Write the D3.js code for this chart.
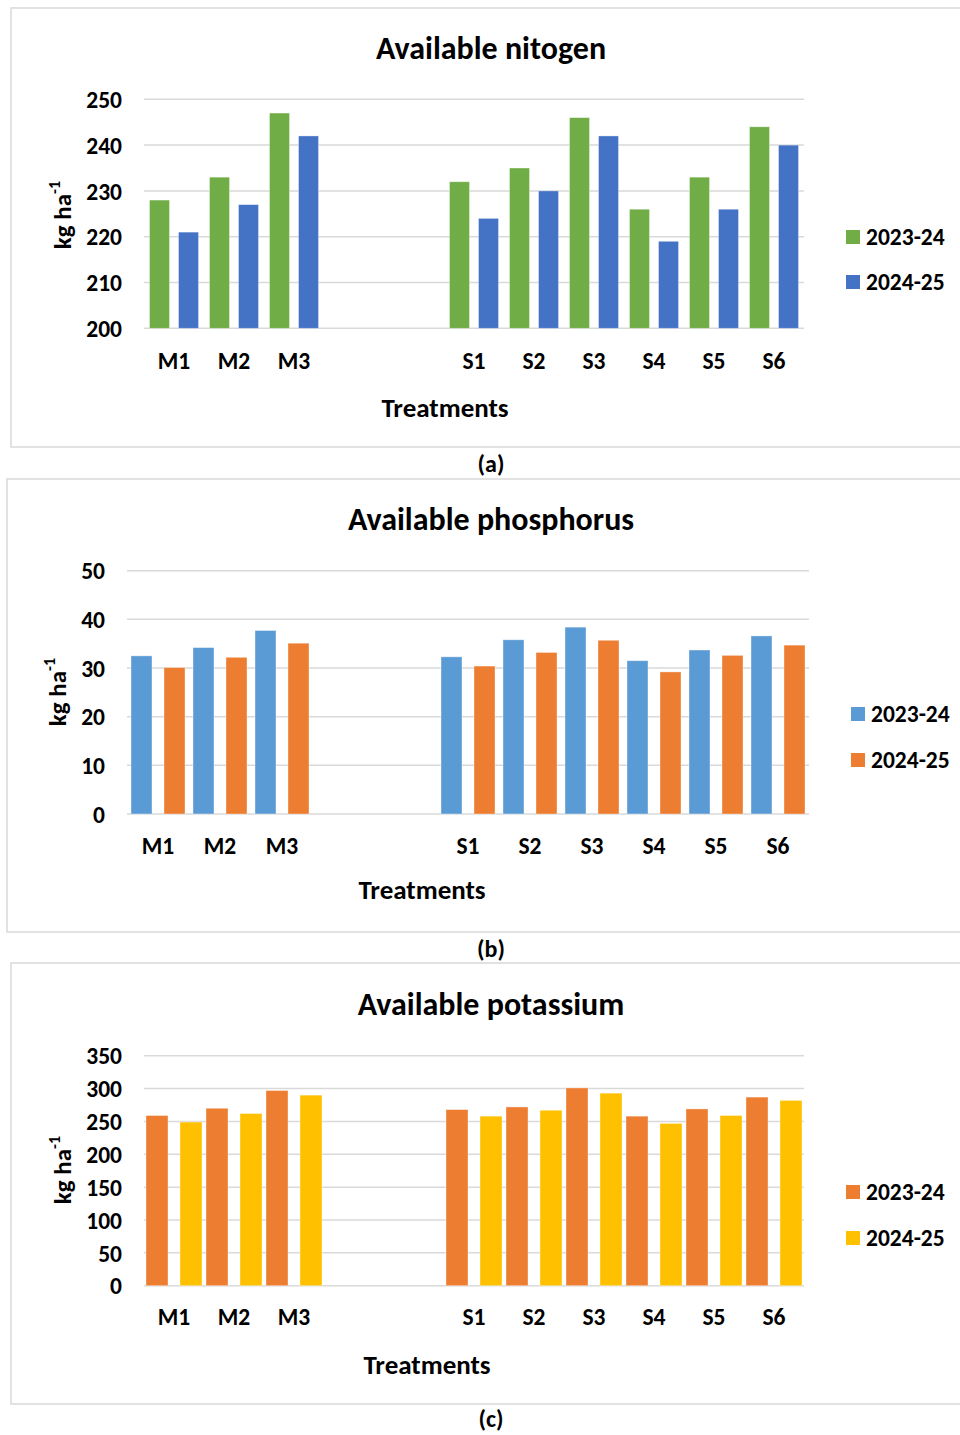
<!DOCTYPE html>
<html>
<head>
<meta charset="utf-8">
<script src="https://cdn.jsdelivr.net/npm/d3@7/dist/d3.min.js"></script>
<style>
  html, body { margin: 0; padding: 0; background: #fff; }
  svg { display: block; }
  text { font-family: Carlito, Calibri, Lato, "Open Sans", sans-serif; font-weight: 700; fill: #000; }
</style>
</head>
<body>
<svg id="chart" width="960" height="1435"></svg>
<script>
// ---- data ----
const treatments = ["M1", "M2", "M3", "S1", "S2", "S3", "S4", "S5", "S6"];
const categories = ["M1", "M2", "M3", "gap1", "gap2", "S1", "S2", "S3", "S4", "S5", "S6"];
const seriesNames = ["2023-24", "2024-25"];

const nitrogen2023 = [228, 233, 247, 232, 235, 246, 226, 233, 244];
const nitrogen2024 = [221, 227, 242, 224, 230, 242, 219, 226, 240];
const nitrogenTicks = [200, 210, 220, 230, 240, 250];

const phosphorus2023 = [32.5, 34.2, 37.7, 32.3, 35.8, 38.4, 31.5, 33.7, 36.6];
const phosphorus2024 = [30.1, 32.2, 35.1, 30.4, 33.2, 35.7, 29.2, 32.6, 34.7];
const phosphorusTicks = [0, 10, 20, 30, 40, 50];

const potassium2023 = [259, 270, 297, 268, 272, 301, 258, 269, 287];
const potassium2024 = [249, 262, 290, 258, 267, 293, 247, 259, 282];
const potassiumTicks = [0, 50, 100, 150, 200, 250, 300, 350];

const FONT = "Carlito, Calibri, Lato, sans-serif";
const svg = d3.select("#chart");

function drawPanel(p) {
  const g = svg.append("g");
  g.append("rect")
    .attr("x", p.frame[0]).attr("y", p.frame[1])
    .attr("width", p.frame[2]).attr("height", p.frame[3])
    .attr("fill", "none").attr("stroke", "#d9d9d9").attr("stroke-width", 1.5);

  const x = d3.scaleBand().domain(categories).range([p.x0, p.x1]).padding(0);
  const y = d3.scaleLinear().domain(p.domain).range([p.yBottom, p.yTop]);

  g.append("g").selectAll("line").data(p.ticks).join("line")
    .attr("x1", p.x0).attr("x2", p.x1)
    .attr("y1", d => y(d)).attr("y2", d => y(d))
    .attr("stroke", "#d9d9d9").attr("stroke-width", 1.5);

  const yAxis = d3.axisLeft(y).tickValues(p.ticks).tickSize(0).tickPadding(0);
  const ya = g.append("g").attr("transform", `translate(${p.tickX},0)`).call(yAxis);
  ya.select(".domain").remove();
  ya.selectAll("text").attr("font-size", p.tickFont).attr("dy", "0.35em")
    .style("font-family", FONT).style("font-weight", 700).attr("fill", "#000");

  const xAxis = d3.axisBottom(x).tickSize(0).tickPadding(0)
    .tickFormat(d => d.startsWith("gap") ? "" : d);
  const xa = g.append("g").attr("transform", `translate(0,${p.catY})`).call(xAxis);
  xa.select(".domain").remove();
  xa.selectAll("text").attr("font-size", p.tickFont).attr("y", 0).attr("dy", "0.35em")
    .style("font-family", FONT).style("font-weight", 700).attr("fill", "#000");

  const rows = treatments.map((t, i) => ({ t, v: [p.s1[i], p.s2[i]] }));
  rows.forEach(r => {
    r.v.forEach((v, k) => {
      const cx = x(r.t) + x.bandwidth() / 2 + (k === 0 ? -p.off : p.off);
      g.append("rect")
        .attr("x", cx - p.barW / 2)
        .attr("y", y(v))
        .attr("width", p.barW)
        .attr("height", y(p.domain[0]) - y(v))
        .attr("fill", p.colors[k])
        .attr("stroke", "#ffffff").attr("stroke-opacity", 0.45).attr("stroke-width", 0.8);
    });
  });

  g.append("text").attr("x", p.titleX).attr("y", p.titleY).attr("dy", "0.35em")
    .attr("text-anchor", "middle").attr("font-size", 32).text(p.title);

  g.append("text").attr("x", p.xTitle[0]).attr("y", p.xTitle[1]).attr("dy", "0.35em")
    .attr("text-anchor", "middle").attr("font-size", 27).text("Treatments");

  const yt = g.append("text")
    .attr("transform", `translate(${p.yTitle[0]},${p.yTitle[1]}) rotate(-90)`)
    .attr("text-anchor", "middle").attr("dy", "0.35em").attr("font-size", 25);
  yt.append("tspan").text("kg ha");
  yt.append("tspan").attr("font-size", 16).attr("dy", "-0.7em").text("-1");

  seriesNames.forEach((s, k) => {
    const ly = p.legY[k];
    g.append("rect").attr("x", p.legX).attr("y", ly - 7).attr("width", 14).attr("height", 14)
      .attr("fill", p.colors[k]);
    g.append("text").attr("x", p.legX + 20).attr("y", ly).attr("dy", "0.35em")
      .attr("font-size", p.tickFont).text(s);
  });

  svg.append("text").attr("x", 491).attr("y", p.capY).attr("dy", "0.35em")
    .attr("text-anchor", "middle").attr("font-size", 24).text(p.caption);
}

drawPanel({
  frame: [11, 8, 960, 439],
  x0: 144, x1: 804, yTop: 99.3, yBottom: 328.3, domain: [200, 250], ticks: nitrogenTicks,
  s1: nitrogen2023, s2: nitrogen2024, colors: ["#70AD47", "#4472C4"],
  barW: 20, off: 14.5,
  tickX: 122, tickFont: 23.5, catY: 361,
  title: "Available nitogen", titleX: 491, titleY: 48,
  xTitle: [445, 408], yTitle: [62, 215],
  legX: 846, legY: [237, 282], caption: "(a)", capY: 464
});

drawPanel({
  frame: [7, 479, 960, 453],
  x0: 127, x1: 809, yTop: 570.7, yBottom: 814, domain: [0, 50], ticks: phosphorusTicks,
  s1: phosphorus2023, s2: phosphorus2024, colors: ["#5B9BD5", "#ED7D31"],
  barW: 21, off: 16.5,
  tickX: 105, tickFont: 23.5, catY: 846,
  title: "Available phosphorus", titleX: 491, titleY: 519,
  xTitle: [422, 890], yTitle: [57, 692],
  legX: 851, legY: [714, 760], caption: "(b)", capY: 949
});

drawPanel({
  frame: [11, 963, 960, 441],
  x0: 144, x1: 804, yTop: 1055.7, yBottom: 1285.7, domain: [0, 350], ticks: potassiumTicks,
  s1: potassium2023, s2: potassium2024, colors: ["#ED7D31", "#FFC000"],
  barW: 22, off: 17,
  tickX: 122, tickFont: 23.5, catY: 1317,
  title: "Available potassium", titleX: 491, titleY: 1004,
  xTitle: [427, 1365], yTitle: [62, 1170],
  legX: 846, legY: [1192, 1238], caption: "(c)", capY: 1419
});
</script>
</body>
</html>
